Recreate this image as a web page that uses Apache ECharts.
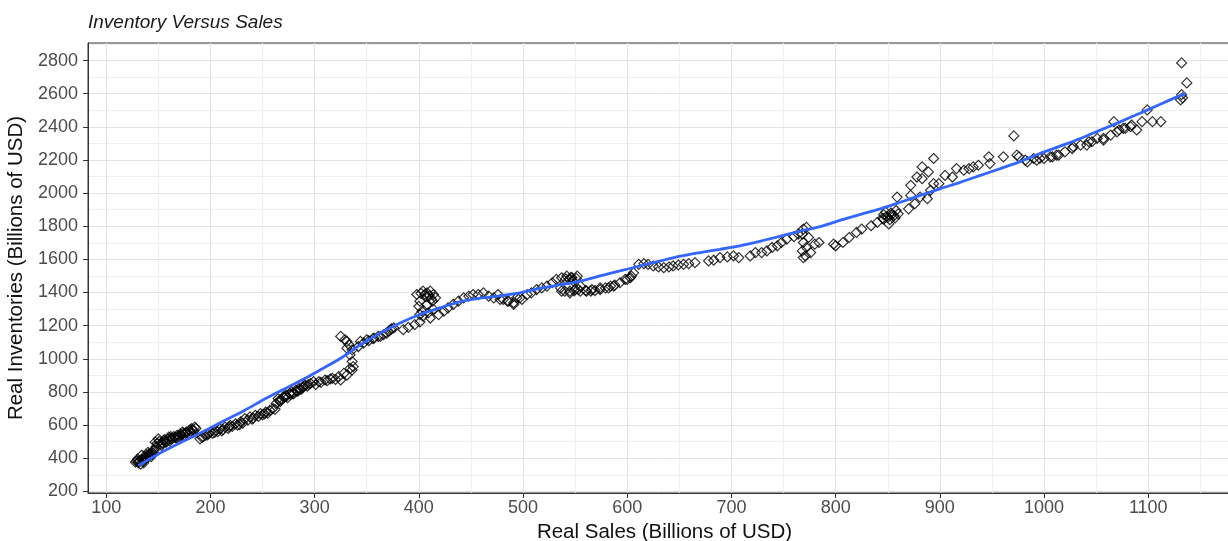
<!DOCTYPE html>
<html>
<head>
<meta charset="utf-8">
<title>Inventory Versus Sales</title>
<script src="https://cdn.jsdelivr.net/npm/echarts@6/dist/echarts.min.js"></script>
<style>
  html, body { margin: 0; padding: 0; background: #ffffff; }
  #chart { width: 1228px; height: 541px; }
</style>
</head>
<body>
<div id="chart"></div>
<script>
// Real sales (x) and real inventories (y), billions of USD, one entry per observation
const realSales = [
  128,130,131,133,134,135,136,137,138,140,141,142,144,132,139,143,145,
  129,131,134,136,139,141,143,145,146,
  147,148,150,152,153,155,157,160,161,163,165,168,169,171,173,175,177,179,182,184,185,
  149,156,158,162,166,170,174,180,
  151,154,159,162,167,172,176,181,183,186,
  190,193,195,198,200,202,205,207,209,212,214,217,219,221,224,226,229,231,233,236,
  238,241,243,246,248,250,253,255,257,260,262,263,265,267,270,272,274,276,278,280,
  282,285,287,289,291,293,296,299,301,304,306,310,312,315,317,320,323,325,328,331,
  268,273,279,284,288,294,
  192,197,204,211,218,228,240,252,266,271,277,283,290,
  334,336,334,337,336,336,331,333,329,325,331,
  342,344,347,350,352,356,357,361,363,366,369,371,373,374,376,385,390,396,401,
  398,401,404,408,411,414,400,403,408,413,416,404,409,414,401,411,406,410,
  402,407,412,
  419,424,428,433,438,443,448,452,
  457,462,467,472,476,481,486,491,494,499,504,485,491,478,497,
  508,513,518,523,528,532,537,542,547,552,536,540,545,550,555,544,548,537,545,553,
  561,566,574,582,587,593,600,604,
  541,546,551,549,
  555,560,565,569,574,579,584,588,598,603,606,
  611,616,620,625,630,635,640,644,649,654,659,665,678,683,689,696,702,707,718,723,
  729,734,739,744,748,753,760,764,
  769,772,768,774,769,772,768,776,771,780,784,769,798,
  800,807,813,820,825,834,840,846,846,850,853,856,858,852,860,848,851,859,870,872,
  876,881,888,891,894,899,872,878,883,894,889,883,
  849,854,857,845,
  905,912,916,923,928,932,937,947,948,961,971,974,976,982,984,990,993,996,1000,1006,
  1008,1012,1014,1020,1027,1028,1035,1041,1043,1046,1051,1057,1057,1064,1067,1070,
  1072,1076,1078,1083,1084,1089,1094,1099,1104,1112,1131,1132,1133,1137,1132
];
const realInventories = [
  376,394,380,364,418,390,372,406,398,436,412,428,422,386,420,432,445,
  382,372,395,384,402,425,410,432,450,
  497,470,517,485,477,507,495,527,505,517,530,538,517,545,558,540,558,548,578,565,588,
  490,512,500,520,525,532,550,570,
  502,490,515,530,522,540,552,560,572,580,
  517,530,538,548,558,550,568,560,578,572,588,580,598,592,608,600,619,612,639,630,
  649,642,659,652,669,662,679,672,689,700,695,730,760,742,770,780,765,792,801,790,
  810,821,815,830,841,835,851,862,845,862,858,872,868,878,882,875,892,872,912,902,
  755,775,790,805,825,845,
  525,540,556,565,590,603,636,668,748,768,785,805,838,
  942,983,1024,953,933,1054,1064,1085,1115,1135,1105,
  1074,1105,1094,1115,1109,1121,1125,1135,1135,1145,1155,1165,1176,1182,1186,1176,1190,1206,1222,
  1388,1348,1408,1398,1408,1388,1317,1287,1328,1348,1368,1257,1277,1298,1267,1246,1390,1380,
  1395,1375,1360,
  1267,1287,1307,1328,1348,1368,1378,1388,
  1388,1398,1378,1368,1388,1358,1348,1338,1368,1358,1388,1348,1328,1358,1368,
  1398,1418,1428,1439,1459,1479,1489,1499,1489,1499,1428,1408,1398,1418,1439,1480,1470,1408,1408,1418,
  1408,1418,1428,1428,1439,1459,1479,1499,
  1482,1492,1485,1410,
  1408,1412,1408,1412,1418,1428,1439,1445,1479,1489,1519,
  1570,1574,1570,1560,1554,1550,1554,1560,1566,1570,1574,1580,1591,1595,1611,1615,1621,1611,1621,1641,
  1641,1651,1672,1682,1702,1722,1737,1753,
  1783,1793,1753,1732,1702,1672,1651,1641,1621,1692,1702,1611,1692,
  1682,1702,1732,1763,1783,1803,1823,1843,1870,1854,1880,1864,1895,1840,1875,1885,1814,1976,1905,1986,
  1936,1976,1966,2017,2057,2057,2047,2097,2158,2209,2128,2087,
  1860,1872,1850,1848,
  2107,2097,2148,2138,2148,2158,2168,2219,2178,2219,2345,2229,2219,2199,2188,2209,2199,2209,2209,2219,
  2219,2229,2229,2249,2269,2280,2290,2290,2310,2310,2330,2320,2330,2350,2431,2370,
  2381,2391,2391,2401,2411,2381,2431,2502,2431,2431,2563,2594,2575,2665,2786
];

// Smoothed trend (local regression) through the observations
const trendSales = [
  131,150,169,189,214,233,253,272,291,306,325,344,363,382,401,420,440,459,478,497,
  516,536,555,574,593,612,632,651,670,689,708,728,747,766,785,804,824,843,862,881,
  900,920,939,958,977,996,1016,1035,1054,1073,1092,1111,1131,1136
];
const trendInventories = [
  356,426,487,548,629,690,760,821,882,935,1003,1085,1155,1216,1267,1307,1345,1366,1380,1398,
  1425,1447,1469,1500,1530,1560,1591,1619,1641,1661,1682,1710,1740,1770,1798,1835,1872,1905,1945,1986,
  2026,2066,2107,2148,2190,2239,2285,2330,2380,2430,2482,2535,2590,2602
];

// Axis breaks
const salesTicks = [100,200,300,400,500,600,700,800,900,1000,1100];
const salesMinorTicks = [150,250,350,450,550,650,750,850,950,1050,1150];
const inventoryTicks = [200,400,600,800,1000,1200,1400,1600,1800,2000,2200,2400,2600,2800];
const inventoryMinorTicks = [300,500,700,900,1100,1300,1500,1700,1900,2100,2300,2500,2700,2900];

const FONT = '"Liberation Sans", Arial, sans-serif';
const X_MIN = 82.5, X_MAX = 1189;
const Y_MIN = 190, Y_MAX = 2906;

const points = realSales.map((s, i) => [s, realInventories[i]]);
const trend = trendSales.map((s, i) => [s, trendInventories[i]]);
const plain = v => String(v);

const chart = echarts.init(document.getElementById('chart'), null, { renderer: 'canvas' });

chart.setOption({
  animation: false,
  backgroundColor: '#ffffff',
  title: {
    text: 'Inventory Versus Sales',
    left: 88,
    top: 13,
    padding: 0,
    textStyle: { fontFamily: FONT, fontSize: 19, fontStyle: 'italic', fontWeight: 'normal', color: '#1a1a1a' }
  },
  grid: {
    left: 88, top: 43, bottom: 48, right: -13,
    outerBoundsMode: 'none',
    containLabel: false,
    show: true, backgroundColor: '#ffffff', borderColor: '#333333', borderWidth: 1
  },
  xAxis: [
    {
      type: 'value', min: X_MIN, max: X_MAX, position: 'bottom', z: 3,
      name: 'Real Sales (Billions of USD)', nameLocation: 'middle', nameGap: 25,
      nameTextStyle: { fontFamily: FONT, fontSize: 20.5, color: '#111111' },
      axisLine: { show: true, onZero: false, lineStyle: { color: '#333333', width: 1 } },
      axisTick: { show: true, customValues: salesTicks, length: 5, lineStyle: { color: '#333333' } },
      axisLabel: { customValues: salesTicks, formatter: plain, margin: 6, fontFamily: FONT, fontSize: 18, color: '#4d4d4d' },
      splitLine: { show: true, lineStyle: { color: '#e3e3e3', width: 1 } }
    },
    {
      type: 'value', min: X_MIN, max: X_MAX, position: 'top', z: 1,
      axisLine: { show: false },
      axisTick: { show: false, customValues: salesMinorTicks },
      axisLabel: { show: false, customValues: salesMinorTicks },
      splitLine: { show: true, lineStyle: { color: '#efefef', width: 1 } }
    }
  ],
  yAxis: [
    {
      type: 'value', min: Y_MIN, max: Y_MAX, position: 'left', z: 3,
      name: 'Real Inventories (Billions of USD)', nameLocation: 'middle', nameGap: 59, nameRotate: 90,
      nameTextStyle: { fontFamily: FONT, fontSize: 20.5, color: '#111111' },
      axisLine: { show: true, onZero: false, lineStyle: { color: '#333333', width: 1 } },
      axisTick: { show: true, customValues: inventoryTicks, length: 5, lineStyle: { color: '#333333' } },
      axisLabel: { customValues: inventoryTicks, formatter: plain, margin: 10, fontFamily: FONT, fontSize: 18, color: '#4d4d4d' },
      splitLine: { show: true, lineStyle: { color: '#e3e3e3', width: 1 } }
    },
    {
      type: 'value', min: Y_MIN, max: Y_MAX, position: 'right', z: 1,
      axisLine: { show: false },
      axisTick: { show: false, customValues: inventoryMinorTicks },
      axisLabel: { show: false, customValues: inventoryMinorTicks },
      splitLine: { show: true, lineStyle: { color: '#efefef', width: 1 } }
    }
  ],
  series: [
    {
      type: 'scatter', xAxisIndex: 0, yAxisIndex: 0,
      data: points,
      symbol: 'diamond', symbolSize: 10,
      itemStyle: { color: 'rgba(255,255,255,0)', borderColor: '#000000', borderWidth: 1.2 },
      silent: true, z: 4
    },
    {
      type: 'line', xAxisIndex: 0, yAxisIndex: 0,
      data: trend, smooth: 0.3, showSymbol: false, symbol: 'none',
      lineStyle: { color: '#3366ff', width: 2.8 },
      silent: true, z: 5
    }
  ]
});
</script>
</body>
</html>
